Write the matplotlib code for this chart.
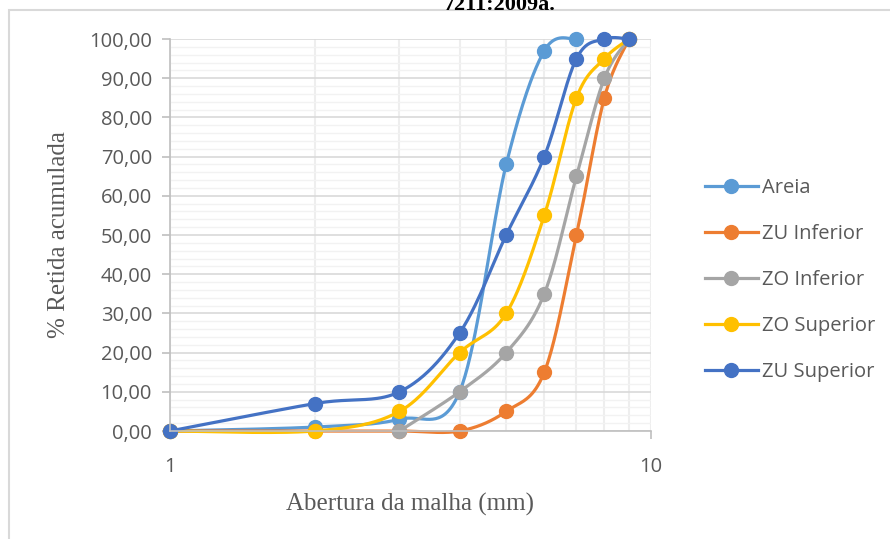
import numpy as np
import matplotlib
matplotlib.use("Agg")
import matplotlib.pyplot as plt
from matplotlib.patches import Rectangle
from matplotlib.ticker import FixedLocator, NullFormatter, FuncFormatter

# Abertura da malha (mm) e % retida acumulada
aberturas = [1, 2, 3, 4, 5, 6, 7, 8, 9]
areia = [0, 1, 3, 10, 68, 97, 100, None, None]
zu_inferior = [0, 0, 0, 0, 5, 15, 50, 85, 100]
zo_inferior = [None, None, 0, 10, 20, 35, 65, 90, 100]
zo_superior = [0, 0, 5, 20, 30, 55, 85, 95, 100]
zu_superior = [0, 7, 10, 25, 50, 70, 95, 100, 100]

series = [
    ("Areia", areia, "#5B9BD5"),
    ("ZU Inferior", zu_inferior, "#ED7D31"),
    ("ZO Inferior", zo_inferior, "#A5A5A5"),
    ("ZO Superior", zo_superior, "#FFC000"),
    ("ZU Superior", zu_superior, "#4472C4"),
]


# Excel-like smoothed line (Catmull-Rom bezier in log-x space)
def smooth(xs, ys, n=40):
    px = np.log10(np.array(xs, dtype=float))
    py = np.array(ys, dtype=float)
    outx, outy = [px[0]], [py[0]]
    for i in range(len(px) - 1):
        p0 = (px[max(i - 1, 0)], py[max(i - 1, 0)])
        p1 = (px[i], py[i])
        p2 = (px[i + 1], py[i + 1])
        p3 = (px[min(i + 2, len(px) - 1)], py[min(i + 2, len(px) - 1)])
        c1 = (p1[0] + (p2[0] - p0[0]) / 6, p1[1] + (p2[1] - p0[1]) / 6)
        c2 = (p2[0] - (p3[0] - p1[0]) / 6, p2[1] - (p3[1] - p1[1]) / 6)
        t = np.linspace(0, 1, n)[1:]
        bx = (1 - t) ** 3 * p1[0] + 3 * (1 - t) ** 2 * t * c1[0] + 3 * (1 - t) * t ** 2 * c2[0] + t ** 3 * p2[0]
        by = (1 - t) ** 3 * p1[1] + 3 * (1 - t) ** 2 * t * c1[1] + 3 * (1 - t) * t ** 2 * c2[1] + t ** 3 * p2[1]
        outx.extend(bx)
        outy.extend(by)
    return 10 ** np.array(outx), np.array(outy)


fig = plt.figure(figsize=(8.9, 5.39), dpi=100)
fig.patches.append(Rectangle((9 / 890, -0.1), 1.2, (539 - 10) / 539 + 0.1, transform=fig.transFigure,
                             fill=False, edgecolor="#d9d9d9", linewidth=1.5))
# title of the page, cut at the top edge as in the source image
fig.text(500 / 890, 1 - 10 / 539, "7211:2009a.", ha="center", va="baseline", fontsize=16, fontweight="bold",
         family="Liberation Serif")

ax = fig.add_axes([170 / 890, 1 - 431 / 539, 481 / 890, 392 / 539])
ax.set_xscale("log")
ax.set_xlim(1, 10)
ax.set_ylim(0, 100)

ax.set_yticks(np.arange(0, 101, 10))
ax.yaxis.set_minor_locator(FixedLocator(np.arange(0, 101, 2)))
ax.yaxis.set_major_formatter(FuncFormatter(lambda v, p: f"{v:.2f}".replace(".", ",")))
ax.xaxis.set_major_locator(FixedLocator([1, 10]))
ax.xaxis.set_minor_locator(FixedLocator([2, 3, 4, 5, 6, 7, 8, 9]))
ax.xaxis.set_major_formatter(FuncFormatter(lambda v, p: f"{v:g}"))
ax.xaxis.set_minor_formatter(NullFormatter())

ax.grid(which="major", axis="y", color="#d9d9d9", linewidth=1.2)
ax.grid(which="minor", axis="y", color="#f2f2f2", linewidth=1.0)
ax.grid(which="both", axis="x", color="#eeeeee", linewidth=1.5)
ax.set_axisbelow(True)

for s in ["top", "right"]:
    ax.spines[s].set_visible(False)
for s in ["left", "bottom"]:
    ax.spines[s].set_color("#bfbfbf")
    ax.spines[s].set_linewidth(1.2)
ax.tick_params(axis="both", which="major", color="#bfbfbf", length=6, width=1.2,
               labelcolor="#595959", labelsize=14.5)
ax.tick_params(axis="y", which="major", pad=7)
ax.tick_params(axis="x", which="major", pad=13)
ax.tick_params(axis="both", which="minor", length=0)
for lab in ax.get_xticklabels() + ax.get_yticklabels():
    lab.set_family("Open Sans")

for name, vals, color in series:
    xs = [a for a, v in zip(aberturas, vals) if v is not None]
    ys = [v for v in vals if v is not None]
    sx, sy = smooth(xs, ys)
    ax.plot(sx, sy, color=color, linewidth=2.3, solid_capstyle="round", clip_on=False)
    ax.plot(xs, ys, "o", color=color, markersize=10, clip_on=False)
    ax.plot([], [], "-o", color=color, linewidth=2.3, markersize=10, label=name)

leg = ax.legend(loc="center left", bbox_to_anchor=(1.075, 0.385), frameon=False, labelspacing=1.3,
                handlelength=2.6, handletextpad=0.2, prop={"family": "Open Sans", "size": 14.5})
for t in leg.get_texts():
    t.set_color("#595959")

ax.set_xlabel("Abertura da malha (mm)", family="Liberation Serif", fontsize=18, color="#595959", labelpad=11)
ax.set_ylabel("% Retida acumulada", family="Liberation Serif", fontsize=18, color="#595959", labelpad=14)

fig.savefig("out.png", dpi=100)
